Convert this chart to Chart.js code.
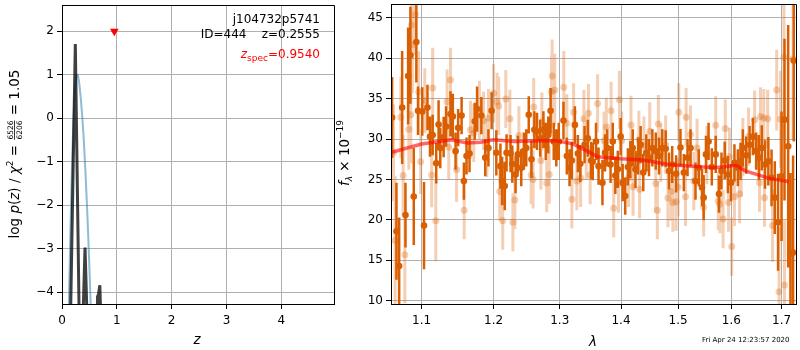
<!DOCTYPE html>
<html>
<head>
<meta charset="utf-8">
<script src="https://cdn.jsdelivr.net/npm/chart.js@4.4.0/dist/chart.umd.min.js"></script>
<style>
  body { margin: 0; background: #fff; width: 800px; height: 350px; position: relative; overflow: hidden; }
  #pz { position: absolute; left: 0; top: 0; width: 340px; height: 350px; }
  #sed { position: absolute; left: 330px; top: 0; width: 470px; height: 350px; }
</style>
</head>
<body>
<canvas id="pz" width="340" height="350"></canvas>
<canvas id="sed" width="470" height="350"></canvas>
<script>
// ---- left panel: log p(z) ----
const pzZ = [0.136, 0.243, 0.329, 0.35, 0.42, 0.49, 0.63, 0.648, 0.665, 0.69, 0.74];
const pzLog = [-6, 1.71, -6, -6, -2.97, -6, -6, -4.1, -4.05, -3.84, -6];
const chiZ = [0.11, 0.13, 0.15, 0.17, 0.19, 0.21, 0.23, 0.25, 0.27, 0.29, 0.31, 0.33, 0.35, 0.37, 0.39, 0.41, 0.43, 0.45, 0.47, 0.49, 0.51, 0.53];
const chiLog = [-5.2, -4.0, -2.8, -1.7, -0.75, 0.0, 0.5, 0.85, 1.0, 0.98, 0.85, 0.62, 0.35, 0.02, -0.35, -0.8, -1.3, -1.85, -2.45, -3.1, -3.8, -4.55];
const zSpec = 0.954;
const zSpecMark = 2.0;
const zTicks = [0, 1, 2, 3, 4];
const logTicks = [-4, -3, -2, -1, 0, 1, 2];

// ---- right panel: spectrum ----
const darkLam = [1.0614, 1.0670, 1.0705, 1.0744, 1.0787, 1.0822, 1.0852, 1.0896, 1.0930, 1.0952,
  1.1008, 1.1032, 1.1078, 1.1112, 1.1148, 1.1196, 1.1228, 1.1251, 1.1297, 1.1330,
  1.1391, 1.1423, 1.1461, 1.1497, 1.1545, 1.1577, 1.1614, 1.1656, 1.1730, 1.1763,
  1.1824, 1.1880, 1.1926, 1.1972,
  1.2040, 1.2100, 1.2125, 1.2164, 1.2190, 1.2249, 1.2275, 1.2324, 1.2358, 1.2409,
  1.2448, 1.2484, 1.2522, 1.2563, 1.2607, 1.2648, 1.2697, 1.2746, 1.2782, 1.2821,
  1.2857, 1.2906, 1.2946, 1.2985,
  1.3059, 1.3112, 1.3155, 1.3192, 1.3240, 1.3288, 1.3327, 1.3396, 1.3449, 1.3503,
  1.3529, 1.3583, 1.3625, 1.3689, 1.3732, 1.3769, 1.3824, 1.3861, 1.3904, 1.3946, 1.3994,
  1.4028, 1.4071, 1.4117, 1.4159, 1.4200, 1.4247, 1.4293, 1.4336, 1.4382, 1.4435,
  1.4482, 1.4541, 1.4601, 1.4659, 1.4717, 1.4777, 1.4836, 1.4894, 1.4965,
  1.5044, 1.5105, 1.5173, 1.5228, 1.5320, 1.5381, 1.5441, 1.5472, 1.5515, 1.5564,
  1.5625, 1.5699, 1.5761, 1.5809, 1.5871, 1.5932, 1.5993,
  1.6059, 1.6125, 1.6178, 1.6223, 1.6289, 1.6356, 1.6421, 1.6486, 1.6540, 1.6599,
  1.6664, 1.6731, 1.6796, 1.6862, 1.6929, 1.7000, 1.7061, 1.7137, 1.7184, 1.7239, 1.7253];
const darkFlux = [32.66, 18.6, 14.3, 33.9, 20.6, 37.8, 40.35, 22.9, 42, 33.5,
  33.4, 19.3, 33.9, 30.3, 30.5, 27, 31.8, 28.9, 30.25, 31.55,
  33.1, 32.8, 28.5, 31.4, 32.9, 24.8, 27.9, 28.2, 32.2, 33.7,
  32.9, 27.7, 28.9, 33.5,
  28.3, 26.65, 24.8, 24.2, 28.3, 28.2, 26.9, 25.6, 28.1, 26.45,
  28.5, 28.9, 33, 27.5, 31.15, 30.95, 30.1, 31.15, 29.7, 30.5,
  33.5, 29.7, 28.9, 29.7,
  32.3, 27.9, 26.45, 27.35, 31.75, 28.2, 26.95, 29.3, 30.1, 27.35,
  27.2, 29.7, 26.65, 24.6, 28.3, 28.9, 26.85, 29.7, 25.5, 26.25, 30.3,
  24.6, 22.95, 26.55, 27.45, 28.9, 26.25, 27.9, 29.3, 25.85, 28.3,
  27.7, 28.9, 28.5, 27.9, 28.9, 28.8, 26.05, 26.85, 25.7,
  28.95, 25.85, 27.7, 28.9, 24.8, 26.45, 24, 22.75, 28.1, 29.7,
  26.55, 28.1, 23.2, 26.05, 27.35, 25.6, 24.6,
  27.05, 26.45, 27.25, 28.9, 28, 29.3, 30.3, 28.5, 27.7, 28.9,
  26.85, 27.25, 25.2, 22.75, 19.7, 25.4, 32.4, 29.1, 15.8, 15.95, 39.7];
const darkErr = [5, 6, 6, 7, 4, 6, 6, 6, 5, 3,
  3, 5.4, 2.8, 2.5, 2.5, 2.5, 3, 2.5, 2.5, 2.5,
  2.8, 2.8, 2.3, 2.3, 2.3, 2.3, 2.3, 2.3, 2.3, 2.8,
  2.3, 2.3, 2.3, 2.3,
  2.8, 2.8, 3, 3, 2.3, 2.3, 2.3, 2.3, 2.3, 2.3,
  2.3, 2.3, 2.3, 2.3, 2.3, 2.3, 2.3, 2.3, 2.3, 2.3,
  2.8, 2.3, 2.3, 2.3,
  2.3, 2.3, 2.3, 2.3, 2.3, 2.3, 2.3, 2.3, 2.3, 2.3,
  2.3, 2.3, 2.3, 2.8, 2.3, 2.3, 2.3, 2.3, 2.3, 2.3, 2.3,
  2.3, 2.3, 2.3, 2.3, 2.3, 2.3, 2.3, 2.3, 2.3, 2.3,
  2.3, 2.3, 2.3, 2.3, 2.3, 2.3, 2.3, 2.3, 2.3,
  2.3, 2.3, 2.3, 2.3, 2.3, 2.3, 2.3, 2.8, 2.3, 2.3,
  2.3, 2.3, 2.3, 2.3, 2.3, 2.3, 2.3,
  2.3, 2.3, 2.3, 2.3, 2.3, 2.3, 2.3, 2.3, 2.8, 2.8,
  3, 3, 3.5, 4.5, 6, 8, 10, 15, 10, 12, 10];

const lightLam = [1.0631, 1.0653, 1.0727, 1.0757, 1.0779, 1.0831, 1.0857, 1.0865, 1.0878, 1.0917,
  1.0961, 1.0987, 1.1042, 1.1134, 1.1148, 1.1190, 1.1344, 1.1367, 1.1391, 1.1475,
  1.1581, 1.1670, 1.1716, 1.1796, 1.1856, 1.1902, 1.1926, 1.2000, 1.2051, 1.2075,
  1.2090, 1.2134, 1.2179, 1.2239, 1.2284, 1.2313, 1.2373, 1.2558, 1.2588, 1.2597,
  1.2707, 1.2722, 1.2797, 1.2836, 1.2872, 1.2881, 1.2921, 1.3064, 1.3112, 1.3192,
  1.3220, 1.3272, 1.3332, 1.3385, 1.3423, 1.3460, 1.3487, 1.3609, 1.3716, 1.3753,
  1.3833, 1.3877, 1.3957, 1.3973, 1.4011, 1.4129, 1.4170, 1.4205, 1.4306, 1.4318,
  1.4394, 1.4495, 1.4601, 1.4629, 1.4647, 1.4689, 1.4777, 1.4818, 1.4876, 1.4906,
  1.4965, 1.5000, 1.5013, 1.5136, 1.5147, 1.5228, 1.5289, 1.5349, 1.5472, 1.5533,
  1.5699, 1.5748, 1.5779, 1.5840, 1.5882, 1.5945, 1.5963, 1.6006, 1.6059, 1.6158,
  1.6190, 1.6223, 1.6336, 1.6455, 1.6553, 1.6573, 1.6638, 1.6652, 1.6717, 1.6816,
  1.6901, 1.6949, 1.6980, 1.7049, 1.7061, 1.7239];
const lightFlux = [28.3, 17.45, 32.7, 25.5, 15.7, 31.2, 33, 44.1, 41.65, 45.4,
  35.85, 27.2, 34.75, 25.55, 36.3, 19.9, 34.6, 29, 37.3, 26.2,
  21.2, 31.15, 30.75, 33.6, 32.25, 28.9, 32.6, 35.65, 34.6, 34.1,
  23.5, 19.9, 34.95, 32.5, 19.7, 22.45, 30.45, 25.55, 25, 33.95,
  27.35, 32.15, 24.55, 25.6, 35.85, 37.8, 36.05, 36.4, 31.95, 22.55,
  33.3, 24.8, 25.2, 32.5, 28.6, 33.2, 25.55, 34.4, 29.8, 31.5,
  33.5, 21.45, 24.5, 34.85, 29.8, 25.2, 31.75, 24.1, 29.9, 23.8,
  29.2, 30.95, 24.5, 21.2, 31.85, 28.3, 29.3, 22.7, 23.5, 22.15,
  22.25, 24.05, 33.3, 22.85, 32.7, 30.55, 24.8, 28.9, 21.55, 28,
  31.7, 22.35, 21.95, 20.1, 31.3, 22.15, 27.8, 16.7, 22.85, 23.2,
  26.45, 29, 30.3, 32.4, 24.6, 32.8, 32.6, 22.75, 32.5, 19.3,
  36.05, 11.1, 32.45, 40.1, 11.95, 39.9];
const lightErr = [6, 8, 5, 5, 6, 5, 6, 6, 6, 5,
  5, 4, 4, 4, 5, 5, 4, 4, 4, 4,
  3.6, 3.6, 3.6, 3.6, 3.6, 3.6, 3.6, 3.6, 3.6, 3.6,
  3.6, 3.6, 3.6, 3.6, 3.6, 3.6, 3.6, 3.6, 3.6, 3.6,
  3.6, 3.6, 3.6, 3.6, 4.5, 4.5, 4.5, 4.5, 3.6, 3.6,
  3.6, 3.6, 3.6, 3.6, 3.6, 3.6, 3.6, 3.6, 3.6, 3.6,
  3.6, 3.6, 3.6, 3.6, 3.6, 3.6, 3.6, 3.6, 3.6, 3.6,
  3.6, 3.6, 3.6, 3.6, 3.6, 3.6, 3.6, 3.6, 3.6, 3.6,
  3.6, 3.6, 3.6, 3.6, 3.6, 3.6, 3.6, 3.6, 3.6, 3.6,
  3.6, 3.6, 3.6, 3.6, 3.6, 3.6, 3.6, 3.6, 3.6, 3.6,
  3.6, 3.6, 3.6, 3.6, 3.6, 3.6, 3.6, 3.6, 3.6, 4.5,
  5, 8, 6, 10, 8, 10];

const modelLam = [1.0610, 1.1000, 1.1395, 1.1628, 1.1814, 1.2000, 1.2299, 1.2697, 1.2946, 1.3208,
  1.3423, 1.3609, 1.4000, 1.4364, 1.4836, 1.5257, 1.5687, 1.6091, 1.6257, 1.6717, 1.7151];
const modelFlux = [28.37, 29.39, 29.9, 29.5, 29.6, 29.9, 29.7, 29.8, 29.8, 29.4,
  28.6, 27.8, 27.55, 27.4, 26.85, 26.65, 26.45, 26.75, 26.1, 25.2, 24.7];

const lamTicks = [1.1, 1.2, 1.3, 1.4, 1.5, 1.6, 1.7];
const fluxTicks = [10, 15, 20, 25, 30, 35, 40, 45];

const DARK = 'rgb(217,95,2)';
const LIGHT = 'rgba(217,95,2,0.3)';
const FONT = '"DejaVu Sans"';

Chart.defaults.font.family = FONT;
Chart.defaults.font.size = 12;
Chart.defaults.color = '#000';

function pairs(xs, ys) {
  return xs.map((x, i) => ({ x: x, y: ys[i] }));
}

// error bars as one broken line: lo, hi, gap
function errSegments(xs, ys, es) {
  const out = [];
  xs.forEach((x, i) => {
    out.push({ x: x, y: ys[i] - es[i] }, { x: x, y: ys[i] + es[i] }, { x: x, y: null });
  });
  return out;
}

function minus(v) {
  return v < 0 ? '\u2212' + Math.abs(v) : String(v);
}

// draw a run of text pieces, optionally rotated, centered or right aligned
function rich(ctx, parts, x, y, rot, align) {
  ctx.save();
  ctx.translate(x, y);
  ctx.rotate(rot || 0);
  let w = 0;
  parts.forEach(p => {
    ctx.font = p.f;
    p.w = p.frac ? Math.max(ctx.measureText(p.frac[0]).width, ctx.measureText(p.frac[1]).width) + 2
                 : ctx.measureText(p.t).width;
    w += p.w;
  });
  let cx = align === 'right' ? -w : -w / 2;
  ctx.textBaseline = 'alphabetic';
  parts.forEach(p => {
    ctx.font = p.f;
    ctx.fillStyle = p.c || '#000';
    if (p.frac) {
      ctx.textAlign = 'center';
      ctx.fillText(p.frac[0], cx + p.w / 2, -6);
      ctx.fillText(p.frac[1], cx + p.w / 2, 3);
      ctx.fillRect(cx + 1, -4.5, p.w - 2, 0.8);
    } else {
      ctx.textAlign = 'left';
      ctx.fillText(p.t, cx, p.dy || 0);
    }
    cx += p.w;
  });
  ctx.restore();
}

const al = v => Math.round(v - 0.5) + 0.5;

const frame = {
  id: 'frame',
  afterDatasetsDraw(chart) {
    const a = chart.chartArea;
    const ctx = chart.ctx;
    ctx.save();
    ctx.strokeStyle = '#000';
    ctx.lineWidth = 1;
    ctx.beginPath();
    ctx.rect(al(a.left), al(a.top), al(a.right) - al(a.left), al(a.bottom) - al(a.top));
    ctx.stroke();
    ctx.restore();
  }
};

function axisOpts(min, max, ticks, fmt, fit, pad) {
  return {
    min: min, max: max,
    afterBuildTicks: s => { s.ticks = ticks.map(v => ({ value: v })); },
    afterFit: s => {
      fit(s);
      s.paddingTop = 0; s.paddingBottom = 0; s.paddingLeft = 0; s.paddingRight = 0;
    },
    ticks: { callback: fmt, padding: pad, maxRotation: 0, autoSkip: false, font: { size: 12 } },
    grid: { color: '#b0b0b0', lineWidth: 1, tickColor: '#000', tickLength: 5 },
    border: { display: true, color: '#000', width: 1 }
  };
}

const pzText = {
  id: 'pzText',
  afterDraw(chart) {
    const ctx = chart.ctx;
    const n = '12px ' + FONT, it = 'italic 12px ' + FONT;
    const ln = '13.5px ' + FONT, li = 'italic 13.5px ' + FONT;
    rich(ctx, [{ t: 'j104732p5741', f: n }], 320, 23, 0, 'right');
    rich(ctx, [{ t: 'ID=444    z=0.2555', f: n }], 320, 38, 0, 'right');
    rich(ctx, [{ t: 'z', f: it, c: 'red' }, { t: 'spec', f: '9px ' + FONT, c: 'red', dy: 3 },
      { t: '=0.9540', f: n, c: 'red' }], 320, 58, 0, 'right');
    rich(ctx, [{ t: 'z', f: li }], 197, 344, 0);
    rich(ctx, [
      { t: 'log ', f: ln }, { t: 'p', f: li }, { t: '(', f: ln }, { t: 'z', f: li },
      { t: ') / ', f: ln }, { t: '\u03c7', f: li }, { t: '2', f: '9px ' + FONT, dy: -6 },
      { t: ' = ', f: ln }, { frac: ['6526', '6206'], f: '7.5px ' + FONT },
      { t: ' = 1.05', f: ln }
    ], 18.5, 154, -Math.PI / 2);
  }
};

const sedText = {
  id: 'sedText',
  afterDraw(chart) {
    const ctx = chart.ctx;
    const n = '13.5px ' + FONT, it = 'italic 13.5px ' + FONT;
    rich(ctx, [{ t: '\u03bb', f: it }], 263, 346, 0);
    rich(ctx, [{ t: 'f', f: it }, { t: '\u03bb', f: 'italic 9px ' + FONT, dy: 3 },
      { t: ' \u00d7 10', f: n }, { t: '\u221219', f: '9px ' + FONT, dy: -6 }], 19, 153, -Math.PI / 2);
    ctx.save();
    ctx.font = '7px ' + FONT;
    ctx.fillStyle = '#000';
    ctx.textAlign = 'left';
    ctx.fillText('Fri Apr 24 12:23:57 2020', 372, 342);
    ctx.restore();
  }
};

new Chart(document.getElementById('pz'), {
  type: 'line',
  data: {
    datasets: [
      { type: 'scatter', data: [{ x: zSpec, y: zSpecMark }], pointStyle: 'triangle', rotation: 180,
        pointRadius: 5, backgroundColor: 'red', borderColor: 'red', borderWidth: 0, clip: false },
      { data: pairs(pzZ, pzLog), borderColor: 'rgba(0,0,0,0.75)', borderWidth: 3, pointRadius: 0, clip: 0 },
      { data: pairs(chiZ, chiLog), borderColor: 'rgba(31,119,180,0.5)', borderWidth: 2, pointRadius: 0,
        cubicInterpolationMode: 'monotone', clip: 0 }
    ]
  },
  options: {
    responsive: false, animation: false, events: [],
    layout: { padding: { left: 0, top: 2, right: 6, bottom: 0 } },
    plugins: { legend: { display: false }, tooltip: { enabled: false } },
    scales: {
      x: Object.assign({ type: 'linear' }, axisOpts(0, 4.96, zTicks, v => minus(v), s => { s.height = 46; }, 5)),
      y: Object.assign({ type: 'linear' }, axisOpts(-4.27, 2.605, logTicks, v => minus(v), s => { s.width = 62; }, 3))
    }
  },
  plugins: [frame, pzText]
});

new Chart(document.getElementById('sed'), {
  type: 'line',
  data: {
    datasets: [
      { data: pairs(modelLam, modelFlux), borderColor: 'rgba(255,0,0,0.6)', borderWidth: 3.5, pointRadius: 0, clip: 0 },
      { type: 'scatter', data: pairs(darkLam, darkFlux), pointRadius: 3.3, backgroundColor: DARK, borderWidth: 0, clip: 0 },
      { data: errSegments(darkLam, darkFlux, darkErr), borderColor: DARK, borderWidth: 2.5, pointRadius: 0, spanGaps: false, clip: 0 },
      { type: 'scatter', data: pairs(lightLam, lightFlux), pointRadius: 3.5, backgroundColor: LIGHT, borderWidth: 0, clip: 0 },
      { data: errSegments(lightLam, lightFlux, lightErr), borderColor: LIGHT, borderWidth: 3, pointRadius: 0, spanGaps: false, clip: 0 }
    ]
  },
  options: {
    responsive: false, animation: false, events: [],
    layout: { padding: { left: 0, top: 2, right: 1, bottom: 0 } },
    plugins: { legend: { display: false }, tooltip: { enabled: false } },
    scales: {
      x: Object.assign({ type: 'logarithmic' }, axisOpts(1.06, 1.73, lamTicks, v => Number(v).toFixed(1), s => { s.height = 46; }, 5)),
      y: Object.assign({ type: 'linear' }, axisOpts(9.6, 46.7, fluxTicks, v => String(v), s => { s.width = 61; }, 3))
    }
  },
  plugins: [frame, sedText]
});
</script>
</body>
</html>
